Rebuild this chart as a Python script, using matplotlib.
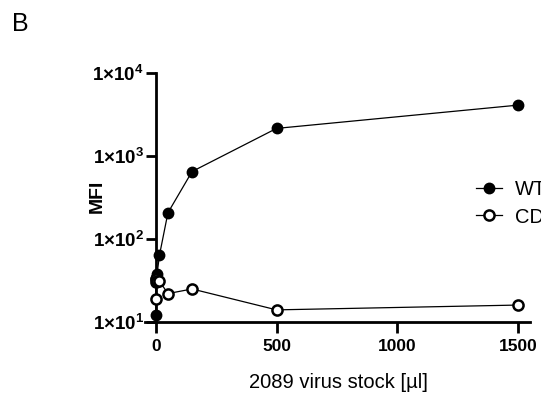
import numpy as np
import matplotlib
matplotlib.use("Agg")
import matplotlib.pyplot as plt

# data (x = virus stock in ul, y = MFI)
dose = [0, 0.5, 1.5, 5, 15, 50, 150, 500, 1500]
wt_mfi = [12, 33, 34, 38, 64, 207, 650, 2150, 4100]
cd_mfi = [19, 30, 33, 31, 31, 22, 25, 14, 16]
series_labels = ["WT", "CD"]
x_ticks = [0, 500, 1000, 1500]
y_ticks = [10, 100, 1000, 10000]
y_ticklabels = [r"$\mathbf{1{\times}10^{%d}}$" % k for k in range(1, 5)]

plt.rcParams.update({
    "font.family": ["Liberation Sans", "DejaVu Sans"],
    "mathtext.fontset": "custom",
    "mathtext.rm": "Liberation Sans",
    "mathtext.bf": "Liberation Sans:bold",
    "mathtext.it": "Liberation Sans:italic",
})

W, H = 541, 398
fig = plt.figure(figsize=(W / 100, H / 100), dpi=100)
left, right, top, bottom = 145, 530, 73, 322
ax = fig.add_axes([left / W, 1 - bottom / H, (right - left) / W, (bottom - top) / H])

ax.plot(dose, wt_mfi, color="black", lw=0.9, marker="o", ms=7.3,
        mfc="black", mec="black", mew=1.2, label=series_labels[0], zorder=3, clip_on=False)
ax.plot(dose, cd_mfi, color="black", lw=0.9, marker="o", ms=7.3,
        mfc="white", mec="black", mew=1.8, label=series_labels[1], zorder=4, clip_on=False)

ax.set_yscale("log")
ax.set_xlim(-45, 1550)
ax.set_ylim(10, 10000)

for s in ["top", "right"]:
    ax.spines[s].set_visible(False)
ax.spines["left"].set_position(("data", 0))
ax.spines["left"].set_linewidth(2)
ax.spines["bottom"].set_linewidth(2)

ax.set_xticks(x_ticks)
ax.set_xticklabels([str(v) for v in x_ticks], fontsize=12.5, fontweight="bold")
ax.set_yticks(y_ticks)
ax.set_yticklabels(y_ticklabels, fontsize=13.5)
ax.yaxis.set_minor_locator(matplotlib.ticker.NullLocator())
ax.tick_params(axis="x", direction="out", length=8, width=2, pad=4)
ax.tick_params(axis="y", direction="out", length=7, width=2, pad=1.5)

fig.text(97 / W, 1 - 196 / H, "MFI", rotation=90, ha="center", va="center",
         fontsize=14, fontweight="bold")
fig.text(338 / W, 1 - 382 / H, "2089 virus stock [\u00b5l]", ha="center", va="center",
         fontsize=14.5)
fig.text(12 / W, 1 - 12 / H, "B", ha="left", va="top", fontsize=18)

ax.legend(loc="center left", bbox_to_anchor=(476 / W, 1 - 203.5 / H),
          bbox_transform=fig.transFigure, frameon=False, fontsize=14.5,
          handlelength=1.3, handletextpad=0.65, labelspacing=0.4,
          borderpad=0, borderaxespad=0)

fig.savefig("out.png", dpi=100)
